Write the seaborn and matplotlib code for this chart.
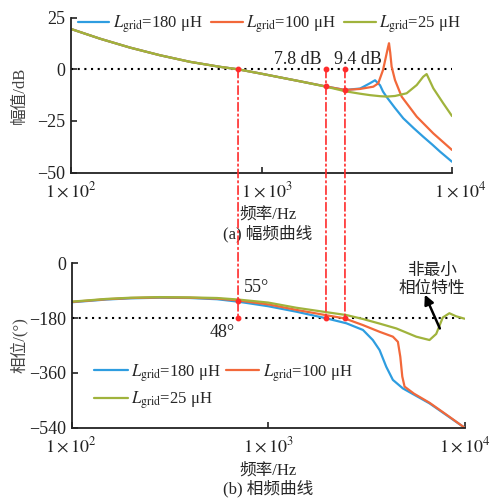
import matplotlib
matplotlib.use("Agg")
import matplotlib.pyplot as plt
from matplotlib.patches import ConnectionPatch
from matplotlib.ticker import NullLocator
import seaborn as sns
import pandas as pd

# ---- data ----
labels = [r"$L_{\mathrm{grid}}$=180 μH", r"$L_{\mathrm{grid}}$=100 μH", r"$L_{\mathrm{grid}}$=25 μH"]
colors = ["#2e9de0", "#f2683a", "#a0b33c"]

# magnitude (dB)
f_mag_180 = [100, 142, 204, 293, 422, 605, 753, 982, 1250, 1592, 2180, 2742, 3290, 3420, 3700, 3945,
             4190, 4345, 4540, 5000, 5550, 6300, 7060, 7900, 8650, 10000]
mag_180 = [19.5, 14.8, 10.5, 6.8, 3.6, 1.2, 0, -2.0, -3.9, -5.8, -8.3, -10.0, -9.3, -8.5, -6.8, -5.3,
           -7.7, -10.8, -13.4, -18.5, -23.7, -28.5, -32.6, -36.5, -39.8, -44.7]
f_mag_100 = [100, 142, 204, 293, 422, 605, 753, 982, 1250, 1592, 2180, 2742, 3290, 3865, 4100, 4345,
             4540, 4610, 4670, 4740, 4820, 5020, 5440, 6530, 7980, 10000]
mag_100 = [19.5, 14.8, 10.5, 6.8, 3.6, 1.2, 0, -2.0, -3.9, -5.8, -8.3, -10.0, -9.5, -8.4, -6.8, -0.3,
           7.7, 10.5, 12.6, 8.0, 1.3, -5.2, -13.2, -22.9, -31.0, -39.0]
f_mag_25 = [100, 142, 204, 293, 422, 605, 753, 982, 1250, 1592, 2180, 2742, 3290, 3715, 4190, 4540,
            5020, 5780, 6530, 7060, 7360, 7980, 8990, 10000]
mag_25 = [19.5, 14.8, 10.5, 6.8, 3.6, 1.2, 0, -2.0, -3.9, -5.8, -8.4, -10.6, -11.8, -12.5, -13.0, -13.2,
          -12.9, -11.6, -7.6, -3.6, -2.3, -9.2, -16.4, -22.6]

# phase (deg)
f_ph_180 = [100, 150, 200, 280, 400, 550, 703, 1000, 1390, 1950, 2495, 3030, 3400, 3680, 3980, 4300,
            4835, 6600, 9950]
ph_180 = [-128, -119, -115, -113, -114, -118, -126, -141, -159, -180, -197, -219, -252, -285, -340, -383,
          -411, -460, -540]
f_ph_100 = [100, 150, 200, 280, 400, 550, 703, 1000, 1390, 1950, 2445, 3030, 3680, 4300, 4560, 4690,
            4800, 4930, 5500, 6600, 8000, 9950]
ph_100 = [-127, -118, -114, -112, -113, -116, -122, -135, -153, -170, -181, -203, -225, -241, -258, -307,
          -372, -405, -428, -458, -496, -540]
f_ph_25 = [100, 150, 200, 280, 400, 550, 703, 1000, 1390, 1950, 2495, 3030, 3680, 4480, 5650, 6600,
           7140, 7710, 8330, 9010, 9950]
ph_25 = [-126, -117, -113, -111, -112, -114, -119, -129, -146, -160, -170, -183, -198, -214, -241, -252,
         -232, -178, -164, -174, -182]

# marked frequencies (top axis) and values
f_marks = [753, 2180, 2742]
mag_marks = [-8.3, -10.0]
pm_phase = -125
xtick_vals = [100, 1000, 10000]
xtick_labels = [r"$1\times10^{2}$", r"$1\times10^{3}$", r"$1\times10^{4}$"]
# top panel's decade labels sit a little to the right in the reference
xtick_labels_top = [r"$1\times10^{2}$", r"$\quad1\times10^{3}$", r"$\quad\;1\times10^{4}$"]

sns.set_style("ticks")
plt.rcParams["font.family"] = ["Liberation Serif", "Noto Sans CJK SC"]
plt.rcParams["mathtext.fontset"] = "stix"
plt.rcParams["axes.unicode_minus"] = True

df_mag = pd.concat([
    pd.DataFrame({"f": f_mag_180, "v": mag_180, "L": labels[0]}),
    pd.DataFrame({"f": f_mag_100, "v": mag_100, "L": labels[1]}),
    pd.DataFrame({"f": f_mag_25, "v": mag_25, "L": labels[2]}),
])
df_ph = pd.concat([
    pd.DataFrame({"f": f_ph_180, "v": ph_180, "L": labels[0]}),
    pd.DataFrame({"f": f_ph_100, "v": ph_100, "L": labels[1]}),
    pd.DataFrame({"f": f_ph_25, "v": ph_25, "L": labels[2]}),
])

fig = plt.figure(figsize=(4.91, 5.0), dpi=100)
ax1 = fig.add_axes([71 / 491, 1 - 172.7 / 500, 381 / 491, 155.1 / 500])
ax2 = fig.add_axes([71.5 / 491, 1 - 427.7 / 500, 393.5 / 491, 164.4 / 500])

red = "#ff2b2b"
for ax, df, ylim, yticks, href, xlabs in [
    (ax1, df_mag, (-50, 25), [25, 0, -25, -50], 0, xtick_labels_top),
    (ax2, df_ph, (-540, 0), [0, -180, -360, -540], -180, xtick_labels),
]:
    ax.axhline(href, color="black", ls=(0, (1, 2.2)), lw=1.5, zorder=1)
    sns.lineplot(data=df, x="f", y="v", hue="L", hue_order=labels, palette=colors,
                 estimator=None, sort=False, lw=1.6, ax=ax, legend=False)
    ax.set_xscale("log")
    ax.set_xlim(100, 10000)
    ax.set_ylim(*ylim)
    ax.set_xticks(xtick_vals)
    ax.set_xticklabels(xlabs)
    ax.xaxis.set_minor_locator(NullLocator())
    ax.set_yticks(yticks)
    ax.set_yticklabels([str(t).replace("-", "\u2212") for t in yticks])
    ax.tick_params(direction="in", length=4, width=1.2, labelsize=13, colors="#222222")
    ax.tick_params(axis="x", pad=6)
    ax.tick_params(axis="y", pad=4)
    for s in ["top", "right"]:
        ax.spines[s].set_visible(False)
    for s in ["left", "bottom"]:
        ax.spines[s].set_linewidth(1.3)
        ax.spines[s].set_color("#222222")

ax1.set_xlabel("频率/Hz\n(a) 幅频曲线", fontsize=12, linespacing=1.15, va="top")
ax1.xaxis.set_label_coords(0.517, -0.22)
ax1.set_ylabel("幅值/dB", fontsize=12, color="#444444")
ax1.yaxis.set_label_coords(-0.113, 0.5)
ax2.set_xlabel("频率/Hz\n(b) 相频曲线", fontsize=12, linespacing=1.15, va="top")
ax2.xaxis.set_label_coords(0.5, -0.21)
ax2.set_ylabel("相位/(°)", fontsize=12, color="#444444")
ax2.yaxis.set_label_coords(-0.11, 0.5)

handles = [plt.Line2D([], [], color=c, lw=1.6) for c in colors]
ax1.legend(handles, labels, loc="center", bbox_to_anchor=(0.52, 0.959), ncol=3, frameon=False,
           fontsize=12, handlelength=1.9, handletextpad=0.2, columnspacing=0.5, borderpad=0)
ax2.legend([handles[0], handles[2], handles[1]], [labels[0], labels[2], labels[1]], loc="center",
           bbox_to_anchor=(0.386, 0.25), ncol=2, frameon=False, fontsize=12, handlelength=2.0,
           handletextpad=0.2, columnspacing=0.3, labelspacing=0.35, borderpad=0)

# vertical dash-dot lines running through both panels
f_bot = []
for f in f_marks:
    xd = ax1.transData.transform((f, 0))[0]
    f_bot.append(ax2.transData.inverted().transform((xd, -180))[0])
for f, fb in zip(f_marks, f_bot):
    con = ConnectionPatch(xyA=(f, 0), coordsA=ax1.transData, xyB=(fb, -180), coordsB=ax2.transData,
                          color=red, lw=1.2, ls=(0, (5, 2, 1, 2)), zorder=6)
    fig.add_artist(con)

ax1.plot(f_marks, [0, 0, 0], "o", color=red, ms=3.2, zorder=7)
ax1.plot(f_marks[1:], mag_marks, "o", color=red, ms=3.2, zorder=7)
ax2.plot(f_bot, [-180] * 3, "o", color=red, ms=3.2, zorder=7)
ax2.plot([f_bot[0]], [pm_phase], "o", color=red, ms=3.2, zorder=7)

ax1.text(2080, 4.5, "7.8 dB", ha="right", va="center", fontsize=13, color="#222222")
ax1.text(2405, 4.5, "9.4 dB", ha="left", va="center", fontsize=13, color="#222222")
ax2.text(751, -78, "55°", ha="left", va="center", fontsize=13, color="#222222")
ax2.text(676, -226, "48°", ha="right", va="center", fontsize=13, color="#222222")
ax2.text(6760, -55, "非最小\n相位特性", ha="center", va="center", fontsize=12,
         linespacing=1.1, color="#222222")
ax2.annotate("", xy=(6250, -103), xytext=(7450, -214),
             arrowprops=dict(arrowstyle="-|>", color="black", lw=1.8, mutation_scale=14,
                             shrinkA=0, shrinkB=0))

fig.savefig("out.png", dpi=100)
